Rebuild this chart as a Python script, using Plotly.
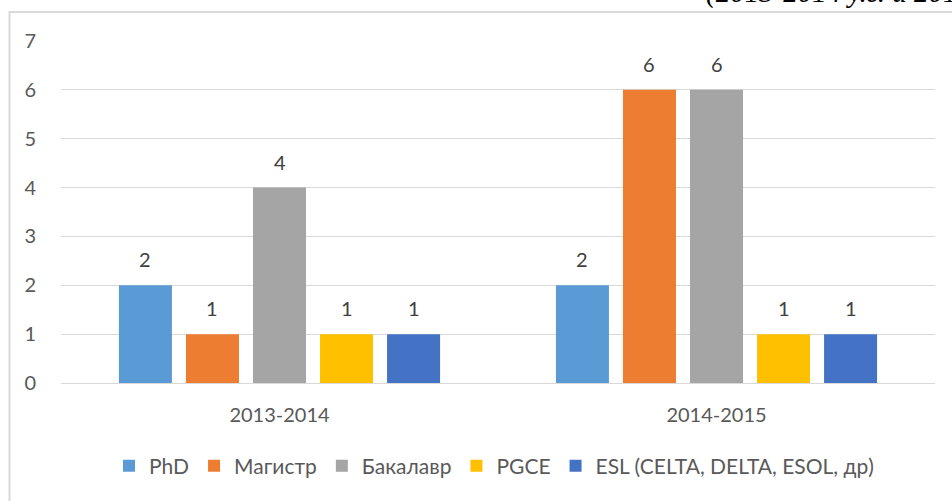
import plotly.graph_objects as go

years = ["2013-2014", "2014-2015"]
series_names = ["PhD", "Магистр", "Бакалавр", "PGCE", "ESL (CELTA, DELTA, ESOL, др)"]
phd = [2, 2]
magistr = [1, 6]
bakalavr = [4, 6]
pgce = [1, 1]
esl = [1, 1]
y_ticks = [0, 1, 2, 3, 4, 5, 6, 7]
header_text = "(2013-2014 у.г. и 2014-2015 у.г.)"

colors = ["#5B9BD5", "#ED7D31", "#A5A5A5", "#FFC000", "#4472C4"]
values = [phd, magistr, bakalavr, pgce, esl]

FONT = "Lato"
FS = 20
LFS = 21
W, H = 952, 501
L, R, T, B = 61, 17, 41, 118
pw, ph = W - L - R, H - T - B
BARGAP, GROUPGAP = 0.233, 0.209

def px(x):
    return (x - L) / pw

def py(y):
    return (H - B - y) / ph

fig = go.Figure()
for name, vals, col in zip(series_names, values, colors):
    fig.add_trace(go.Bar(
        x=years, y=vals, name=name,
        marker=dict(color=col, line=dict(width=0)),
    ))

# data labels placed above each bar (positions derived from the bar grouping)
n = len(series_names)
slot_px = (pw / len(years)) * (1 - BARGAP) / n
annotations = []
for i, vals in enumerate(values):
    for yr, v in zip(years, vals):
        annotations.append(dict(
            x=yr, y=v, xref="x", yref="y", text=str(v), showarrow=False,
            xshift=(i - (n - 1) / 2) * slot_px, yshift=26, yanchor="middle",
            font=dict(family=FONT, size=FS, color="#404040"),
        ))

annotations.append(dict(text="<i>" + header_text + "</i>", xref="paper", yref="paper",
                        x=px(704), y=py(11), xanchor="left", yanchor="bottom",
                        showarrow=False,
                        font=dict(family="Liberation Serif", size=29, color="black")))

fig.update_layout(
    width=W, height=H,
    margin=dict(l=L, r=R, t=T, b=B, pad=0),
    paper_bgcolor="white", plot_bgcolor="white",
    barmode="group", bargap=BARGAP, bargroupgap=GROUPGAP,
    font=dict(family=FONT, size=FS, color="#595959"),
    showlegend=True,
    legend=dict(orientation="h", x=px(494), xanchor="center", y=py(466), yanchor="middle",
                font=dict(family=FONT, size=LFS, color="#595959"),
                itemwidth=30, traceorder="normal"),
    xaxis=dict(showgrid=False, showline=True, linecolor="#D9D9D9", linewidth=1,
               ticks="", ticklabelstandoff=14,
               tickfont=dict(family=FONT, size=FS, color="#595959")),
    yaxis=dict(range=[0, 7], tickvals=y_ticks, showgrid=True, gridcolor="#D9D9D9",
               gridwidth=1, zeroline=False, showline=False, ticks="",
               ticklabelstandoff=24,
               tickfont=dict(family=FONT, size=FS, color="#595959")),
    shapes=[dict(type="rect", xref="paper", yref="paper",
                 x0=px(9.5), x1=px(970), y0=py(12), y1=py(520),
                 line=dict(color="#D9D9D9", width=2), fillcolor="rgba(0,0,0,0)", layer="below")],
    annotations=annotations,
)

fig.write_html("out.html", config={"displayModeBar": False},
               post_script="document.body.style.margin='0';document.body.style.overflow='hidden';")
